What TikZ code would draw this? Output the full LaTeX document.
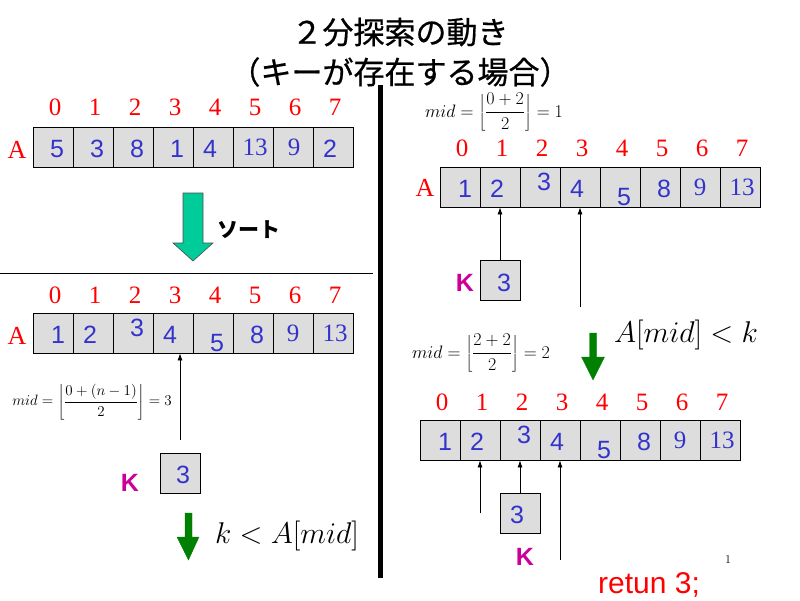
\RequirePackage{fix-cm}
\documentclass[tikz,border=0pt]{standalone}
\usepackage{fontspec}
\newfontfamily\jp{Noto Sans CJK JP}
\newfontfamily\jpt[FakeBold=0.6]{Noto Sans CJK JP}
\newfontfamily\arial{Liberation Sans}
\newfontfamily\tms{Liberation Serif}
\usetikzlibrary{arrows.meta,calc}
\definecolor{cellgray}{RGB}{221,221,221}
\definecolor{valblue}{RGB}{51,51,204}
\definecolor{kmag}{RGB}{204,0,153}
\definecolor{darkgr}{RGB}{0,128,0}
\definecolor{sortgr}{RGB}{0,204,153}
\tikzset{
  cell/.style={draw=black, line width=0.8pt, fill=cellgray, minimum width=40pt, minimum height=40pt, inner sep=0pt},
  idx/.style={text=red, font=\tms\fontsize{25}{25}\selectfont, inner sep=0pt},
  sv/.style={text=valblue, font=\arial\fontsize{25}{25}\selectfont, inner sep=0pt},
  tv/.style={text=valblue, font=\tms\fontsize{25}{25}\selectfont, inner sep=0pt},
  albl/.style={text=red, font=\tms\fontsize{26}{26}\selectfont, inner sep=0pt},
  klbl/.style={text=kmag, font=\arial\bfseries\fontsize{25}{25}\selectfont, inner sep=0pt},
  ptr/.style={-{Latex[length=7pt,width=5pt]}, line width=0.7pt},
  bigmath/.style={font=\fontsize{30}{30}\selectfont, inner sep=0pt, anchor=base},
  formR/.style={font=\fontsize{18}{18}\selectfont, inner sep=0pt},
  formL/.style={font=\fontsize{15}{15}\selectfont, inner sep=0pt},
  title/.style={font=\jpt\fontsize{31}{31}\selectfont, inner sep=0pt},
  greenarrow/.style={fill=darkgr, draw=darkgr, line width=0.3pt},
}
\begin{document}
\begin{tikzpicture}[x=1pt,y=-1pt]
\useasboundingbox (0,0) rectangle (800,600);
\fill[white] (0,0) rectangle (800,600);

% title
\node[title] (t1) at (400,32) {２分探索の動き};
\node[title] (t2) at (400,72) {（キーが存在する場合）};

% separators
\fill[black] (378,85) rectangle (383,578);
\draw[line width=0.8pt] (0,273) -- (373,273);

% ---------- array 1 (unsorted) ----------
\foreach \i in {0,...,7} {
  \node[cell] (a1c\i) at ({53+40*\i},147) {};
  \node[idx] (a1i\i) at ({55+40*\i},107) {\i};
}
\node[albl] (a1A) at (17,150) {A};
\foreach \i/\v/\dx/\dy in {0/5/4/2, 1/3/4/2, 2/8/4/2, 3/1/4/2, 4/4/-3/2, 7/2/-3/2}
  \node[sv] (a1v\i) at ($(a1c\i)+(\dx,\dy)$) {\v};
\foreach \i/\v/\dx/\dy in {5/13/2/0, 6/9/1/0}
  \node[tv] (a1v\i) at ($(a1c\i)+(\dx,\dy)$) {\v};

% sort arrow
\filldraw[fill=sortgr, draw=black!70, line width=0.6pt]
  (183,193) -- (203,193) -- (203,243) -- (213,243) -- (193,261) -- (173,243) -- (183,243) -- cycle;
\node[font=\jp\bfseries\fontsize{21}{21}\selectfont, inner sep=0pt] (sortlbl) at (249,230) {ソート};

% ---------- array 2 (sorted) ----------
\foreach \i in {0,...,7} {
  \node[cell] (a2c\i) at ({53+40*\i},333) {};
  \node[idx] (a2i\i) at ({55+40*\i},295) {\i};
}
\node[albl] (a2A) at (17,336) {A};
\foreach \i/\v/\dx/\dy in {0/1/5/2, 1/2/-3/2, 2/3/4/-5, 3/4/-3/2, 4/5/4/10, 5/8/4/2}
  \node[sv] (a2v\i) at ($(a2c\i)+(\dx,\dy)$) {\v};
\foreach \i/\v/\dx/\dy in {6/9/0/0, 7/13/2/0}
  \node[tv] (a2v\i) at ($(a2c\i)+(\dx,\dy)$) {\v};

\node[formL] (f1) at (92,402) {$\displaystyle mid=\left\lfloor\frac{0+(n-1)}{2}\right\rfloor=3$};
\coordinate (p1) at (180,440);
\draw[ptr] (p1) -- (p1 |- a2c3.south);

\node[cell] (k1) at (180,473) {};
\node[sv] (k1v) at ($(k1)+(3,2)$) {3};
\node[klbl] (k1l) at (130,483) {K};

\fill[greenarrow] (185,513) -- (192,513) -- (192,537) -- (199,537) -- (188.5,560) -- (177,537) -- (185,537) -- cycle;
\node[bigmath] (m1) at (287,543) {$k<A[mid]$};

% ---------- array 3 (right top) ----------
\node[formR] (f2) at (494,112) {$\displaystyle mid=\left\lfloor\frac{0+2}{2}\right\rfloor=1$};
\foreach \i in {0,...,7} {
  \node[cell] (a3c\i) at ({460+40*\i},187) {};
  \node[idx] (a3i\i) at ({462+40*\i},148) {\i};
}
\node[albl] (a3A) at (425,188) {A};
\foreach \i/\v/\dx/\dy in {0/1/5/2, 1/2/-3/2, 2/3/4/-5, 3/4/-3/2, 4/5/4/10, 5/8/4/2}
  \node[sv] (a3v\i) at ($(a3c\i)+(\dx,\dy)$) {\v};
\foreach \i/\v/\dx/\dy in {6/9/0/0, 7/13/2/0}
  \node[tv] (a3v\i) at ($(a3c\i)+(\dx,\dy)$) {\v};

\node[cell] (k2) at (500,280) {};
\node[sv] (k2v) at ($(k2)+(4,3)$) {3};
\node[klbl] (k2l) at (465,283) {K};
\draw[ptr] (k2.north) -- (a3c1.south);
\coordinate (p2) at (580,307);
\draw[ptr] (p2) -- (p2 |- a3c3.south);

% ---------- array 4 (right bottom) ----------
\node[formR] (f3) at (481,353) {$\displaystyle mid=\left\lfloor\frac{2+2}{2}\right\rfloor=2$};
\fill[greenarrow] (589.5,333) -- (596.5,333) -- (596.5,357) -- (604.5,357) -- (593,380) -- (581.5,357) -- (589.5,357) -- cycle;
\node[bigmath] (m2) at (686,342) {$A[mid]<k$};

\foreach \i in {0,...,7} {
  \node[cell] (a4c\i) at ({440+40*\i},440) {};
  \node[idx] (a4i\i) at ({442+40*\i},402) {\i};
}
\foreach \i/\v/\dx/\dy in {0/1/5/2, 1/2/-3/2, 2/3/4/-5, 3/4/-3/2, 4/5/4/10, 5/8/4/2}
  \node[sv] (a4v\i) at ($(a4c\i)+(\dx,\dy)$) {\v};
\foreach \i/\v/\dx/\dy in {6/9/0/0, 7/13/2/0}
  \node[tv] (a4v\i) at ($(a4c\i)+(\dx,\dy)$) {\v};

\node[cell] (k3) at (520,513) {};
\node[sv] (k3v) at ($(k3)+(-3,2)$) {3};
\node[klbl] (k3l) at (525,557) {K};
\coordinate (p3) at (480,513);
\draw[ptr] (p3) -- (a4c1.south);
\draw[ptr] (k3.north) -- (a4c2.south);
\coordinate (p4) at (560,560);
\draw[ptr] (p4) -- (a4c3.south);

\node[text=red, font=\arial\fontsize{30}{30}\selectfont, inner sep=0pt, anchor=base] (ret) at (649,593) {retun 3;};
\node[font=\fontsize{12}{12}\selectfont, inner sep=0pt] (pg) at (728,560) {1};
\end{tikzpicture}
\end{document}
